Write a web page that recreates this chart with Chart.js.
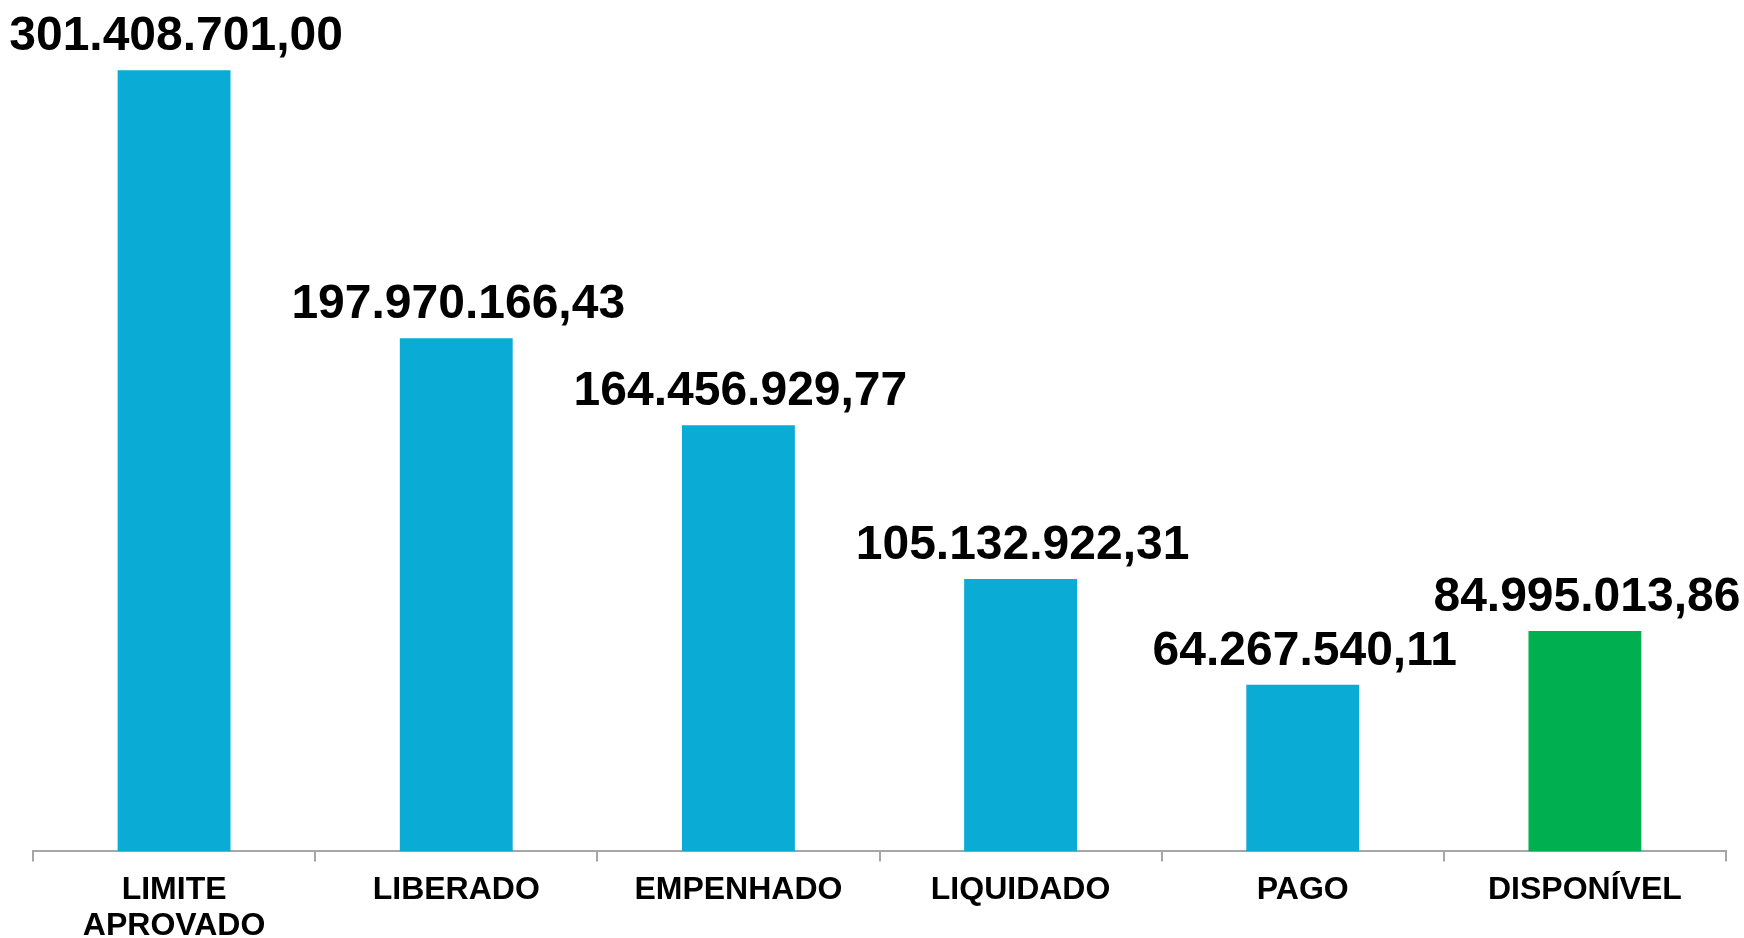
<!DOCTYPE html>
<html>
<head>
<meta charset="utf-8">
<script src="https://cdn.jsdelivr.net/npm/chart.js@4"></script>
<style>
  html, body { margin: 0; padding: 0; background: #fff; }
  canvas { display: block; }
</style>
</head>
<body>
<canvas id="chart" width="1744" height="938"></canvas>
<script>
// Categories and values
const categories = [["LIMITE", "APROVADO"], "LIBERADO", "EMPENHADO", "LIQUIDADO", "PAGO", "DISPONÍVEL"];
const values = [301408701.00, 197970166.43, 164456929.77, 105132922.31, 64267540.11, 84995013.86];
const barColors = ["#0AABD5", "#0AABD5", "#0AABD5", "#0AABD5", "#0AABD5", "#00B050"];

// To format numbers the Brazilian way: 301.408.701,00
function formatBR(v) {
    const parts = v.toFixed(2).split(".");
    const intPart = parts[0].replace(/\B(?=(\d{3})+(?!\d))/g, ".");
    return intPart + "," + parts[1];
}

// To draw the value labels above each bar
const valueLabels = {
    id: "valueLabels",
    afterDatasetsDraw(chart) {
        const ctx = chart.ctx;
        const meta = chart.getDatasetMeta(0);
        ctx.save();
        ctx.font = "bold 48px 'Liberation Sans', Arial, sans-serif";
        ctx.fillStyle = "#000";
        ctx.textAlign = "center";
        ctx.textBaseline = "alphabetic";
        meta.data.forEach((bar, i) => {
            ctx.fillText(formatBR(values[i]), bar.x + 2, bar.y - 20);
        });
        ctx.restore();
    }
};

const ctx = document.getElementById("chart").getContext("2d");
const chart = new Chart(ctx, {
    type: "bar",
    data: {
        labels: categories,
        datasets: [{
            data: values,
            backgroundColor: barColors,
            borderWidth: 0,
            categoryPercentage: 1,
            barPercentage: 0.4
        }]
    },
    options: {
        responsive: false,
        animation: false,
        layout: {
            padding: { left: 33, right: 18, top: 22, bottom: -17 }
        },
        scales: {
            y: {
                display: false,
                min: 0,
                max: 320000000
            },
            x: {
                grid: {
                    display: true,
                    offset: true,
                    drawOnChartArea: false,
                    drawTicks: true,
                    tickLength: 10,
                    color: "#a6a6a6",
                    lineWidth: 2
                },
                border: { display: true, color: "#a6a6a6", width: 2 },
                ticks: {
                    color: "#000",
                    padding: 10,
                    maxRotation: 0,
                    autoSkip: false,
                    font: { family: "'Liberation Sans', Arial, sans-serif", size: 32, weight: "bold", lineHeight: 1.15 }
                }
            }
        },
        plugins: {
            legend: { display: false },
            tooltip: { enabled: false }
        }
    },
    plugins: [valueLabels]
});
</script>
</body>
</html>
